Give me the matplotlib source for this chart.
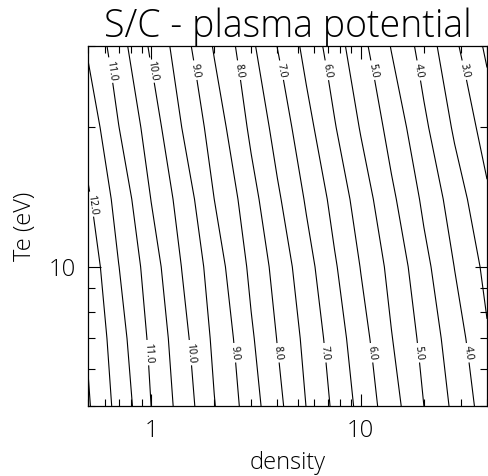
import numpy as np
import matplotlib
matplotlib.use('Agg')
from matplotlib import pyplot as plt
from matplotlib import ticker

plt.rcParams['font.family'] = ['Open Sans', 'DejaVu Sans']
plt.rcParams['font.weight'] = 'light'

# grid: density (x), Te in eV (y), potential in V
density = [0.5, 0.7, 1.0, 1.4, 2.0, 3.0, 4.0, 5.5, 7.5, 10.0, 14.0, 20.0, 28.0, 40.0]
te = [5.0, 7.0, 10.0, 14.0, 20.0, 30.0]
potential = [
    [12.55, 11.81, 11.00, 10.27, 9.52, 8.70, 8.12, 7.49, 6.89, 6.33, 5.68, 5.00, 4.37, 3.72],
    [12.44, 11.68, 10.88, 10.15, 9.39, 8.56, 7.98, 7.35, 6.74, 6.17, 5.52, 4.83, 4.20, 3.55],
    [12.28, 11.51, 10.71, 9.99, 9.22, 8.38, 7.80, 7.17, 6.55, 5.98, 5.33, 4.63, 3.99, 3.34],
    [12.06, 11.29, 10.49, 9.77, 9.00, 8.16, 7.57, 6.94, 6.32, 5.74, 5.09, 4.39, 3.73, 3.08],
    [11.77, 11.01, 10.22, 9.50, 8.74, 7.89, 7.30, 6.65, 6.03, 5.46, 4.80, 4.09, 3.42, 2.75],
    [11.43, 10.69, 9.91, 9.19, 8.45, 7.59, 6.99, 6.33, 5.72, 5.14, 4.47, 3.77, 3.08, 2.39],
]
half_levels = np.arange(2.5, 13.0, 1.0)
whole_levels = np.arange(3.0, 13.0, 1.0)
top_labels = [3, 4, 5, 6, 7, 8, 9, 10, 11]
bottom_labels = [4, 5, 6, 7, 8, 9, 10, 11]
side_labels = [12]
xticks = [1, 10]
xticklabels = ['1', '10']
yticks = [10]
yticklabels = ['10']

fig = plt.figure(figsize=(4.88, 4.76), dpi=100)
ax = fig.add_axes([0.1803, 0.147, 0.8177, 0.7564])
ax.set_xscale('log')
ax.set_yscale('log')

pot = np.array(potential)
ax.contour(density, te, pot, levels=half_levels, colors='k', linewidths=0.8)
cs = ax.contour(density, te, pot, levels=whole_levels, colors='k', linewidths=0.8)


def spot(level, t_target):
    # where the contour of this level crosses the wanted Te
    i = list(cs.levels).index(level)
    seg = max(cs.allsegs[i], key=len)
    order = np.argsort(seg[:, 1])
    lt = np.log10(seg[order, 1])
    lx = np.log10(seg[order, 0])
    return 10 ** np.interp(np.log10(t_target), lt, lx), t_target


ax.set_xlim(0.5, 40)
ax.set_ylim(5, 30)

spots = [spot(v, 26.5) for v in top_labels]
spots += [spot(v, 6.5) for v in bottom_labels]
spots += [spot(v, 13.6) for v in side_labels]
lbls = cs.clabel(manual=spots, inline=True, inline_spacing=3, fmt='%.1f', fontsize=7.5)
for t in lbls:
    t.set_fontweight('normal')

ax.set_xticks(xticks)
ax.set_xticklabels(xticklabels)
ax.set_yticks(yticks)
ax.set_yticklabels(yticklabels)
ax.xaxis.set_minor_formatter(ticker.NullFormatter())
ax.yaxis.set_minor_formatter(ticker.NullFormatter())
ax.tick_params(which='both', direction='in', top=True, right=True, width=0.8)
ax.tick_params(which='major', length=9, labelsize=17, pad=9)
ax.tick_params(which='minor', length=5)
for sp in ax.spines.values():
    sp.set_linewidth(0.9)

ax.set_title('S/C - plasma potential', fontsize=27, pad=3, fontweight='light')
ax.set_xlabel('density', fontsize=17, labelpad=6, fontweight='light')
ax.set_ylabel('Te (eV)', fontsize=17, labelpad=8, fontweight='light')

fig.savefig('out.png', dpi=100)
